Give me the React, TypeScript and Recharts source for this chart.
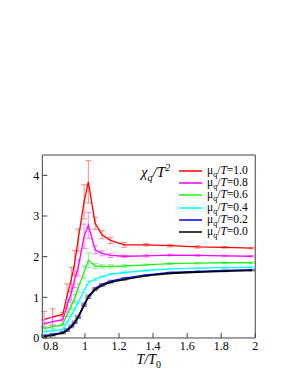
import React from 'react';
import { ComposedChart, Line, XAxis, YAxis, ErrorBar, Legend, Label } from 'recharts';

const T = [0.76, 0.81, 0.87, 0.895, 0.92, 0.94, 0.96, 0.995, 1.02, 1.06, 1.1, 1.15, 1.23, 1.36, 1.5, 1.66, 1.82, 1.98];

const chi10 = [0.45, 0.52, 0.58, 1.03, 1.44, 1.85, 2.41, 3.35, 3.84, 2.82, 2.54, 2.4, 2.29, 2.29, 2.27, 2.24, 2.23, 2.21];
const err10 = [0.2, 0.2, 0.05, 0.3, 0.3, 0.3, 0.27, 0.42, 0.52, 0.15, 0.1, 0.08, 0.06, 0.03, 0.03, 0.03, 0.02, 0.02];

const chi08 = [0.35, 0.4, 0.45, 0.79, 1.11, 1.44, 1.72, 2.5, 2.77, 2.17, 2.08, 2.03, 2.01, 2.02, 2.04, 2.03, 2.02, 2.01];
const err08 = [0.1, 0.1, 0.04, 0.15, 0.2, 0.2, 0.2, 0.3, 0.32, 0.1, 0.06, 0.05, 0.03, 0.03, 0.02, 0.02, 0.02, 0.02];

const chi06 = [0.23, 0.28, 0.33, 0.58, 0.79, 0.97, 1.23, 1.62, 1.91, 1.77, 1.76, 1.76, 1.77, 1.8, 1.83, 1.84, 1.85, 1.85];
const err06 = [0.05, 0.05, 0.03, 0.05, 0.08, 0.1, 0.1, 0.15, 0.18, 0.06, 0.04, 0.04, 0.03, 0.02, 0.02, 0.02, 0.02, 0.02];

const chi04 = [0.15, 0.18, 0.21, 0.38, 0.56, 0.71, 0.87, 1.16, 1.36, 1.44, 1.51, 1.57, 1.61, 1.66, 1.7, 1.72, 1.73, 1.74];
const err04 = [0.03, 0.03, 0.02, 0.03, 0.03, 0.03, 0.03, 0.04, 0.04, 0.03, 0.02, 0.02, 0.02, 0.02, 0.02, 0.02, 0.02, 0.02];

const chi02 = [0.06, 0.09, 0.14, 0.21, 0.3, 0.4, 0.53, 0.83, 1.03, 1.22, 1.32, 1.4, 1.47, 1.55, 1.61, 1.64, 1.66, 1.68];
const err02 = [0.02, 0.02, 0.02, 0.02, 0.02, 0.02, 0.02, 0.03, 0.03, 0.02, 0.02, 0.02, 0.02, 0.01, 0.01, 0.01, 0.01, 0.01];

const chi00 = [0.04, 0.07, 0.12, 0.18, 0.27, 0.37, 0.5, 0.8, 1.0, 1.19, 1.29, 1.37, 1.44, 1.53, 1.59, 1.62, 1.64, 1.66];
const err00 = [0.02, 0.02, 0.02, 0.02, 0.02, 0.02, 0.02, 0.03, 0.03, 0.02, 0.02, 0.02, 0.02, 0.01, 0.01, 0.01, 0.01, 0.01];

const muLabels = ['1.0', '0.8', '0.6', '0.4', '0.2', '0.0'];
const colors = ['#ff0000', '#ff00ff', '#22ee22', '#00ffff', '#0000ff', '#000000'];
const errColors = ['#ff6a6a', '#ff6aff', '#66ee66', '#66ffff', '#6666ff', '#555555'];
const values = [chi10, chi08, chi06, chi04, chi02, chi00];
const errors = [err10, err08, err06, err04, err02, err00];

const xMajor = [0.8, 1, 1.2, 1.4, 1.6, 1.8, 2];
const xMinor = [0.9, 1.1, 1.3, 1.5, 1.7, 1.9];
const yMajor = [0, 1, 2, 3, 4];
const yMinor = [0.5, 1.5, 2.5, 3.5, 4.5];

const data = T.map((t, i) => {
  const row: Record<string, number> = { t };
  values.forEach((v, k) => {
    row['s' + k] = v[i];
    row['e' + k] = errors[k][i];
  });
  return row;
});

const FONT = '"Liberation Serif", "Times New Roman", serif';
const FRAME = '#444';
const TINY = 0.01;

const tickStyle = { fontFamily: FONT, fontSize: 12, fill: '#000', style: { fontFamily: FONT } };

const fmtX = (v: number) => (Number.isInteger(v) ? String(v) : v.toFixed(1));

const LegendContent = (props: any) => {
  const payload = [...(props.payload || [])].sort(
    (a: any, b: any) => parseFloat(b.value) - parseFloat(a.value)
  );
  return (
    <div style={{ fontFamily: FONT, fontSize: 11.5, color: '#000' }}>
      {payload.map((p: any, i: number) => (
        <div key={i} style={{ display: 'flex', alignItems: 'center', height: 12.3, whiteSpace: 'nowrap' }}>
          <svg width={28} height={6} style={{ display: 'block' }}>
            <line x1={0} x2={23} y1={3} y2={3} stroke={p.color} strokeWidth={1.5} />
          </svg>
          <span style={{ lineHeight: '12px' }}>
            μ<span style={{ fontSize: 8, position: 'relative', top: 3 }}>q</span>/<i>T</i>={p.value}
          </span>
        </div>
      ))}
    </div>
  );
};

const YTitle = () => (
  <text x={141} y={177} fontFamily={FONT} fontSize={15} fontStyle="italic" fill="#000">
    χ<tspan fontSize={10} dy={4}>q</tspan>
    <tspan fontSize={15} dy={-4}>/T</tspan>
    <tspan fontSize={10} dy={-6}>2</tspan>
  </text>
);

const XTitle = (props: any) => {
  const vb = props.viewBox || { x: 0, width: 0 };
  const cx = vb.x + vb.width / 2;
  return (
    <text x={cx} y={364} textAnchor="middle" fontFamily={FONT} fontSize={14} fontStyle="italic" fill="#000">
      T/T<tspan fontSize={10} dy={4} fontStyle="normal">0</tspan>
    </text>
  );
};

export default function App() {
  return (
    <div style={{ position: 'absolute', left: 0, top: 0, background: '#fff' }}>
      <ComposedChart
        width={295}
        height={382}
        data={data}
        margin={{ top: 155, right: 39.7, bottom: 44, left: 42.3 }}
      >
        <XAxis
          xAxisId="x"
          dataKey="t"
          type="number"
          domain={[0.75, 2]}
          ticks={xMajor}
          tickFormatter={fmtX}
          allowDataOverflow
          height={TINY}
          tickSize={-5}
          tickMargin={8}
          tick={tickStyle}
          axisLine={{ stroke: FRAME }}
          tickLine={{ stroke: FRAME }}
          interval={0}
        >
          <Label content={<XTitle />} />
        </XAxis>
        <XAxis
          xAxisId="xm"
          dataKey="t"
          type="number"
          domain={[0.75, 2]}
          ticks={xMinor}
          allowDataOverflow
          height={TINY}
          tickSize={-3}
          tick={false}
          axisLine={false}
          tickLine={{ stroke: FRAME }}
          interval={0}
        />
        <XAxis
          xAxisId="xt"
          orientation="top"
          dataKey="t"
          type="number"
          domain={[0.75, 2]}
          ticks={xMajor}
          allowDataOverflow
          height={TINY}
          tickSize={-5}
          tick={false}
          axisLine={{ stroke: FRAME }}
          tickLine={{ stroke: FRAME }}
          interval={0}
        />
        <XAxis
          xAxisId="xtm"
          orientation="top"
          dataKey="t"
          type="number"
          domain={[0.75, 2]}
          ticks={xMinor}
          allowDataOverflow
          height={TINY}
          tickSize={-3}
          tick={false}
          axisLine={false}
          tickLine={{ stroke: FRAME }}
          interval={0}
        />
        <YAxis
          yAxisId="y"
          type="number"
          domain={[0, 4.5]}
          ticks={yMajor}
          allowDataOverflow
          width={TINY}
          tickSize={-5}
          tickMargin={8}
          tick={tickStyle}
          axisLine={{ stroke: FRAME }}
          tickLine={{ stroke: FRAME }}
          interval={0}
        >
          <Label content={<YTitle />} />
        </YAxis>
        <YAxis
          yAxisId="ym"
          type="number"
          domain={[0, 4.5]}
          ticks={yMinor}
          allowDataOverflow
          width={TINY}
          tickSize={-3}
          tick={false}
          axisLine={false}
          tickLine={{ stroke: FRAME }}
          interval={0}
        />
        <YAxis
          yAxisId="yr"
          orientation="right"
          type="number"
          domain={[0, 4.5]}
          ticks={yMajor}
          allowDataOverflow
          width={TINY}
          tickSize={-5}
          tick={false}
          axisLine={{ stroke: FRAME }}
          tickLine={{ stroke: FRAME }}
          interval={0}
        />
        <YAxis
          yAxisId="yrm"
          orientation="right"
          type="number"
          domain={[0, 4.5]}
          ticks={yMinor}
          allowDataOverflow
          width={TINY}
          tickSize={-3}
          tick={false}
          axisLine={false}
          tickLine={{ stroke: FRAME }}
          interval={0}
        />
        {values.map((_, k) => (
          <Line
            key={k}
            xAxisId="x"
            yAxisId="y"
            dataKey={'s' + k}
            name={muLabels[k]}
            stroke={colors[k]}
            strokeWidth={k === 5 ? 1.6 : 1.3}
            dot={false}
            activeDot={false}
            isAnimationActive={false}
          >
            <ErrorBar
              dataKey={'e' + k}
              width={3}
              stroke={errColors[k]}
              strokeWidth={0.8}
              direction="y"
              isAnimationActive={false}
            />
          </Line>
        ))}
        <Legend
          layout="vertical"
          verticalAlign="middle"
          align="center"
          content={<LegendContent />}
          wrapperStyle={{ position: 'absolute', left: 179, top: 164.5, width: 80, height: 76 }}
        />
      </ComposedChart>
    </div>
  );
}
